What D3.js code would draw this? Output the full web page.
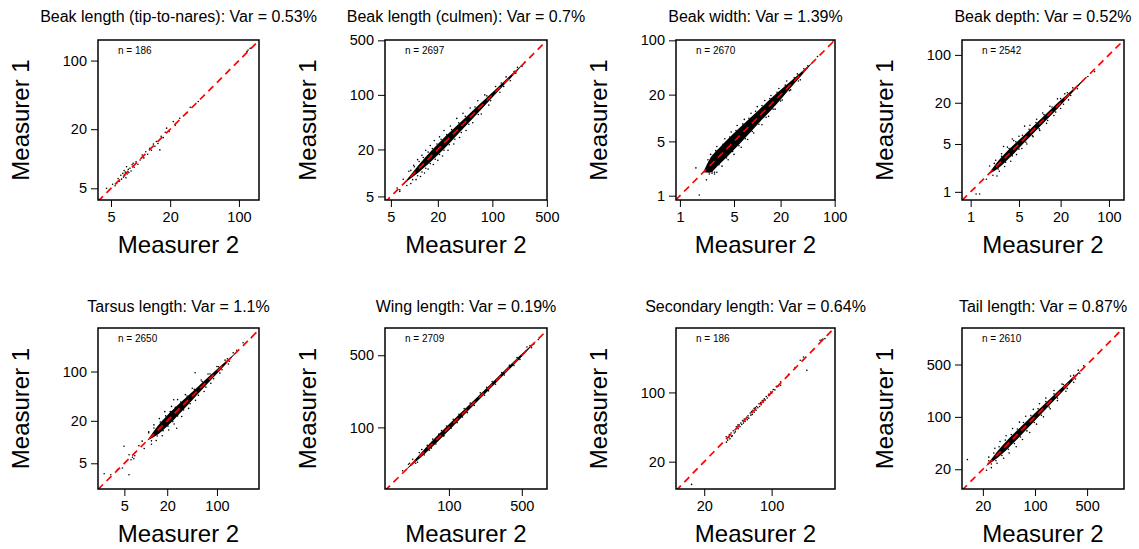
<!DOCTYPE html>
<html>
<head>
<meta charset="utf-8">
<script src="https://cdn.jsdelivr.net/npm/d3@7"></script>
<style>
body { margin: 0; background: #fff; }
svg { display: block; }
text { font-family: "Liberation Sans", Arial, sans-serif; fill: #000; }
</style>
</head>
<body>
<div id="viz"></div>
<script>
// titles, sample sizes and tick values for the 8 panels
const titles = [
    'Beak length (tip-to-nares): Var = 0.53%',
    'Beak length (culmen): Var = 0.7%',
    'Beak width: Var = 1.39%',
    'Beak depth: Var = 0.52%',
    'Tarsus length: Var = 1.1%',
    'Wing length: Var = 0.19%',
    'Secondary length: Var = 0.64%',
    'Tail length: Var = 0.87%'
];
const nCounts = [186, 2697, 2670, 2542, 2650, 2709, 186, 2610];
const tickSets = [
    [5, 20, 100],
    [5, 20, 100, 500],
    [1, 5, 20, 100],
    [1, 5, 20, 100],
    [5, 20, 100],
    [100, 500],
    [20, 100],
    [20, 100, 500]
];

// dense cores of the clouds: Measurer 2 value, lower and upper Measurer 1 value
const culmenCoreX  = [7.3, 11.2, 16.6, 24.5, 36.3, 59.3, 107, 175, 260];
const culmenCoreLo = [7.3, 10.05, 14.26, 20.76, 31.62, 52.85, 99.8, 167.5, 260];
const culmenCoreHi = [7.3, 12.48, 19.32, 28.91, 41.67, 66.53, 114.7, 182.9, 260];

const widthCoreX  = [2.0, 2.4, 3.24, 5.9, 10.7, 17.6, 26.3, 39, 53];
const widthCoreLo = [2.0, 1.98, 2.54, 4.63, 8.82, 14.98, 23.87, 37.14, 53];
const widthCoreHi = [2.0, 2.91, 4.13, 7.52, 12.98, 20.68, 28.98, 40.95, 53];

const depthCoreX  = [1.8, 2.48, 3.72, 6.03, 10.5, 18.3, 28.5, 50];
const depthCoreLo = [1.8, 2.2, 3.2, 5.31, 9.38, 16.6, 27.04, 50];
const depthCoreHi = [1.8, 2.79, 4.32, 6.84, 11.75, 20.17, 30.04, 50];

const tarsusCoreX  = [10.5, 14.4, 19.9, 30.5, 52.1, 89, 137, 200];
const tarsusCoreLo = [10.5, 12.54, 16.62, 25.85, 46.02, 81.95, 131.5, 200];
const tarsusCoreHi = [10.5, 16.53, 23.82, 35.99, 58.98, 96.65, 142.8, 200];

const wingCoreX  = [38, 59.6, 100, 168, 304, 474, 700];
const wingCoreLo = [38, 56.1, 93.3, 159.7, 290.9, 458, 700];
const wingCoreHi = [38, 63.3, 107.2, 176.7, 317.7, 490.6, 700];

const tailCoreX  = [22, 35.6, 53.8, 81.5, 123, 206, 311, 424];
const tailCoreLo = [22, 31.45, 46.86, 72.0, 110.9, 189.7, 294.2, 424];
const tailCoreHi = [22, 40.3, 61.76, 92.26, 136.4, 223.7, 328.7, 424];

// single points [Measurer 2, Measurer 1]
const tipNaresPts = [
    [4.5, 5.0], [5.2, 5.5], [5.5, 5.3], [5.7, 5.6], [5.9, 6.3], [6.1, 5.9], [6.3, 6.8], [6.4, 6.2],
    [6.6, 7.1], [6.7, 6.5], [6.8, 7.6], [6.9, 6.7], [7.0, 7.3], [7.1, 6.4], [7.2, 8.3], [7.3, 7.0],
    [7.5, 7.8], [7.6, 7.2], [7.8, 8.0], [8.0, 7.5], [8.2, 8.7], [8.4, 9.0], [8.6, 8.2], [9.0, 9.3],
    [9.4, 8.8], [9.9, 9.7], [10.4, 10.9], [10.8, 10.2], [11.3, 11.8], [11.8, 11.1], [12.4, 12.8],
    [12.9, 12.2], [13.5, 14.1], [14.0, 13.4], [14.5, 15.0], [15.0, 14.3], [15.7, 12.3], [16.2, 16.9],
    [17.0, 16.4], [17.8, 18.6], [18.4, 20.5], [19.5, 19.0], [21.5, 23.9], [22.5, 22.0], [25, 25.8],
    [29.4, 29.1], [32, 33.5], [38.6, 38.3], [121, 124], [124, 128], [130, 133]
];
const culmenPts = [
    [6.0, 6.4], [6.5, 6.1], [6.5, 5.8], [7.2, 8.3], [8.0, 6.9], [8.5, 10.5], [9.0, 7.3], [9.8, 12.5],
    [10.5, 8.2], [11, 14.8], [12, 9.0], [12.5, 16.8], [13.5, 10.0], [14, 19.5], [15, 11.2], [16, 22.5],
    [17.5, 12.8], [18, 26], [20, 14.5], [21, 29], [23, 16.5], [24, 35], [27, 19.5], [29, 40],
    [32, 23.5], [35, 50], [38, 28.5], [42, 58], [46, 35], [52, 68], [56, 44], [65, 84], [72, 57],
    [80, 100], [90, 74], [110, 128], [125, 108], [150, 170], [170, 152], [210, 225], [240, 232], [259, 262],
    [9, 10.8], [9.5, 8.2], [10, 12], [11, 9.2], [11.5, 14], [12.5, 10.3], [13, 15.8], [14, 11.5],
    [15, 18.5], [16, 13.2], [17, 20.5], [18.5, 15], [19.5, 23.5], [21, 17.2], [22, 27], [24, 19.5],
    [26, 31], [28, 23], [30, 36], [33, 27], [37, 44], [40, 33], [45, 53], [50, 42], [60, 70], [66, 56],
    [85, 97], [95, 84], [130, 142], [140, 128], [190, 200], [200, 190]
];
const widthPts = [
    [1.61, 2.28], [1.78, 1.02], [2.2, 1.6], [2.4, 1.9], [2.6, 1.95], [2.8, 1.9], [3.0, 2.0],
    [2.5, 3.4], [2.8, 2.0], [3.0, 4.3], [3.5, 2.4], [3.8, 5.4], [4.2, 2.9], [4.6, 6.6], [5.0, 3.4],
    [5.5, 8.0], [6.2, 4.2], [6.8, 9.6], [7.5, 5.3], [8.3, 11.5], [9.0, 6.4], [10, 14], [11.5, 8.2],
    [12.5, 16.8], [14, 10.5], [15, 19.5], [17, 13], [19, 24], [21, 17], [24, 30], [27, 23], [33, 37],
    [36, 31], [45, 47], [60, 62], [95, 98],
    [2.3, 2.9], [2.6, 2.05], [2.9, 3.8], [3.2, 2.5], [3.6, 4.6], [4.0, 3.05], [4.4, 5.7], [4.8, 3.7],
    [5.3, 6.9], [5.8, 4.4], [6.5, 8.4], [7.0, 5.4], [7.8, 9.9], [8.6, 6.7], [9.5, 12.2], [10.5, 8.3],
    [11.5, 14.5], [13, 10.2], [14.5, 17.8], [16, 13], [18, 21.5], [20, 16.5], [23, 26.5], [26, 22.5],
    [30, 33], [34, 30], [40, 43]
];
const depthPts = [
    [1.2, 0.93], [1.35, 0.93], [1.69, 1.53], [1.88, 2.39], [2.1, 1.75], [2.3, 2.9], [2.4, 1.7],
    [2.6, 2.0], [2.8, 3.6], [3.0, 4.6], [3.1, 2.35], [3.4, 4.5], [3.8, 2.8], [4.0, 5.9], [4.2, 5.6],
    [4.6, 3.5], [5.0, 6.5], [5.5, 4.3], [6.03, 9.1], [6.5, 5.0], [7.2, 9.4], [8.0, 6.4], [9.0, 11.5],
    [10, 7.9], [11, 14.2], [12.5, 10.0], [14, 17.8], [16, 13.0], [18, 22.8], [20, 16.5], [23, 27],
    [26, 22], [30, 33], [35, 32], [49.6, 48.4], [62, 57],
    [2.2, 2.6], [2.5, 2.15], [2.8, 3.3], [3.2, 2.7], [3.6, 4.3], [4.0, 3.35], [4.5, 5.4], [5.0, 4.2],
    [5.6, 6.7], [6.3, 5.3], [7, 8.2], [7.8, 6.6], [8.8, 10.3], [9.8, 8.3], [11.5, 13.4], [13, 11],
    [15, 17.3], [17, 14.6], [20, 23], [22, 19], [25, 28], [28, 25.5]
];
const tarsusPts = [
    [2.6, 3.55], [3.22, 3.44], [4.0, 4.06], [4.69, 4.29], [4.95, 8.7], [5.8, 3.44], [5.82, 6.6],
    [6.2, 5.6], [6.5, 6.1], [6.8, 5.8], [7.0, 6.4], [8.0, 8.9], [8.9, 10.3], [9.5, 8.1],
    [11, 14], [12, 9.3], [13, 17.5], [14, 10.5], [15.5, 21.5], [17, 12.3], [18.5, 27], [21, 14.8],
    [23, 32], [24.7, 39.8], [25, 18], [27.2, 15.7], [28, 40], [32, 23], [36, 47], [40, 30], [45, 58],
    [49.3, 96], [50, 39], [60, 76], [66, 52], [75, 92], [82, 68], [100, 118], [110, 95], [130, 145],
    [145, 128], [169, 184], [190, 200], [233, 256], [305, 301],
    [11, 13.5], [12, 10.4], [13, 15.8], [14.5, 12.2], [16, 19.2], [17.5, 14.5], [19, 23.5], [20.5, 16.8],
    [22, 27], [24, 19.5], [26, 31], [28, 23.5], [31, 37], [34, 28.5], [38, 45], [42, 35], [48, 56],
    [55, 46], [62, 72], [70, 60], [80, 92], [90, 79], [105, 117], [118, 106], [140, 152], [150, 140]
];
const wingPts = [
    [36, 38], [41, 44], [45, 49], [50, 46], [55, 61], [65, 60], [70, 77], [75, 69], [85, 93],
    [90, 83], [110, 120], [120, 111], [140, 152], [150, 139], [200, 216], [220, 205], [260, 278],
    [280, 262], [380, 400], [420, 398], [560, 600], [620, 590], [650, 640], [720, 710],
    [42, 45], [48, 45], [52, 57], [58, 54], [62, 67], [68, 63], [80, 86], [88, 82], [95, 103],
    [105, 98], [125, 134], [135, 126], [160, 172], [175, 163], [230, 245], [240, 226], [320, 340],
    [340, 322], [450, 475], [480, 455], [600, 620]
];
const secondaryPts = [
    [14.8, 11.8], [33.8, 35.7], [34, 31.5], [35, 33], [36, 35], [36.5, 37.5], [37, 34], [38, 39],
    [38.5, 36], [39, 36.5], [40, 41], [41, 39], [42, 40], [43, 45], [44.6, 46.9], [45, 43], [46, 47],
    [47, 45], [48, 49], [49, 47.5], [50, 52], [51, 49], [52, 54], [53, 51], [55, 56], [56, 53],
    [57, 58], [58, 55], [60, 62], [61, 59], [62, 64], [63, 60], [64, 66], [65.9, 69], [66, 63],
    [68, 70], [69, 66], [70, 72], [72, 70], [74, 77], [75, 72], [77, 79], [78, 75], [80, 83],
    [82, 80], [84, 86], [86, 84], [88, 91], [90, 88], [93, 96], [95, 93], [97.7, 101], [100, 98],
    [104, 107], [108, 106], [112, 115], [118, 116], [124, 118], [124, 128], [150, 152], [175, 178],
    [198, 211], [214, 228], [232, 167], [318, 336], [330, 338], [340, 345], [357, 349]
];
const tailPts = [
    [12.4, 26.9], [22.4, 19.4], [24, 29], [26, 21], [29, 38], [31, 24], [34, 47], [38, 28], [41, 56],
    [45, 33], [50, 70], [56, 40], [62, 85], [68, 50], [75, 102], [85, 62], [95, 126], [105, 80],
    [115, 150], [130, 100], [140, 178], [160, 128], [180, 225], [200, 165], [230, 275], [260, 220],
    [300, 350], [330, 290], [380, 420], [400, 380], [450, 480], [1279, 1279],
    [24, 26], [26, 23.5], [28, 33], [30, 26], [33, 40], [36, 30.5], [40, 49], [44, 37], [48, 58],
    [53, 44], [58, 69], [64, 54], [70, 84], [78, 65], [88, 104], [98, 84], [110, 128], [122, 105],
    [140, 160], [155, 135], [180, 203], [200, 178], [240, 270], [270, 240], [330, 360], [350, 320]
];

const cores = [
    null,
    d3.zip(culmenCoreX, culmenCoreLo, culmenCoreHi),
    d3.zip(widthCoreX, widthCoreLo, widthCoreHi),
    d3.zip(depthCoreX, depthCoreLo, depthCoreHi),
    d3.zip(tarsusCoreX, tarsusCoreLo, tarsusCoreHi),
    d3.zip(wingCoreX, wingCoreLo, wingCoreHi),
    null,
    d3.zip(tailCoreX, tailCoreLo, tailCoreHi)
];
const points = [tipNaresPts, culmenPts, widthPts, depthPts, tarsusPts, wingPts, secondaryPts, tailPts];

// axis extents of each panel
const xDomains = [[3.69, 160], [4.2, 502], [0.89, 101], [0.75, 165], [2.13, 390], [24.4, 872], [10.2, 454], [10.5, 1563]];
const yDomains = [[3.8, 162], [4.5, 505], [0.88, 101], [0.76, 165], [2.16, 414], [25.3, 918], [10.6, 447], [10.9, 1535]];

const width = 1139, height = 549;
const colLeft = [98, 385, 676, 962], colRight = [259, 547, 835, 1124];
const rowTop = [40, 328], rowBottom = [200, 489], rowTitle = [22, 311.5];

const svg = d3.select('#viz')
    .append('svg')
    .attr('width', width)
    .attr('height', height);

titles.forEach((title, i) => {
    const col = i % 4, row = Math.floor(i / 4);
    const l = colLeft[col], r = colRight[col], t = rowTop[row], b = rowBottom[row];

    const x = d3.scaleLog().domain(xDomains[i]).range([l, r]);
    const y = d3.scaleLog().domain(yDomains[i]).range([b, t]);

    const g = svg.append('g');

    g.append('clipPath')
        .attr('id', 'clip' + i)
      .append('rect')
        .attr('x', l).attr('y', t)
        .attr('width', r - l).attr('height', b - t);

    const plot = g.append('g').attr('clip-path', 'url(#clip' + i + ')');

    if (cores[i]) {
        plot.append('path')
            .datum(cores[i])
            .attr('fill', '#000')
            .attr('d', d3.area()
                .x(d => x(d[0]))
                .y0(d => y(d[1]))
                .y1(d => y(d[2]))
                .curve(d3.curveMonotoneX));
    }

    plot.selectAll('circle')
        .data(points[i])
        .enter()
        .append('circle')
        .attr('cx', d => x(d[0]))
        .attr('cy', d => y(d[1]))
        .attr('r', 0.8)
        .attr('fill', '#000');

    // 1:1 line
    const lo = Math.min(xDomains[i][0], yDomains[i][0]), hi = Math.max(xDomains[i][1], yDomains[i][1]);
    plot.append('line')
        .attr('x1', x(lo)).attr('y1', y(lo))
        .attr('x2', x(hi)).attr('y2', y(hi))
        .attr('stroke', '#ff0000')
        .attr('stroke-width', 1.7)
        .attr('stroke-dasharray', '7,5');

    g.append('rect')
        .attr('x', l).attr('y', t)
        .attr('width', r - l).attr('height', b - t)
        .attr('fill', 'none')
        .attr('stroke', '#000')
        .attr('stroke-width', 1.5);

    const xAxis = g.append('g')
        .attr('transform', `translate(0,${b})`)
        .call(d3.axisBottom(x).tickValues(tickSets[i]).tickFormat(d3.format('d')).tickSize(7).tickPadding(5));
    const yAxis = g.append('g')
        .attr('transform', `translate(${l},0)`)
        .call(d3.axisLeft(y).tickValues(tickSets[i]).tickFormat(d3.format('d')).tickSize(7).tickPadding(4));
    [xAxis, yAxis].forEach(a => {
        a.select('.domain').remove();
        a.selectAll('line').attr('stroke', '#000');
        a.selectAll('text').attr('font-size', 14.5).attr('font-family', '"Liberation Sans", Arial, sans-serif');
    });

    g.append('text')
        .attr('x', (l + r) / 2)
        .attr('y', rowTitle[row])
        .attr('text-anchor', 'middle')
        .attr('font-size', 16)
        .text(title);

    g.append('text')
        .attr('x', l + 20)
        .attr('y', t + 14)
        .attr('font-size', 10)
        .text('n = ' + nCounts[i]);

    g.append('text')
        .attr('x', (l + r) / 2)
        .attr('y', b + 53)
        .attr('text-anchor', 'middle')
        .attr('font-size', 24)
        .text('Measurer 2');

    g.append('text')
        .attr('transform', `translate(${l - 69},${(t + b) / 2}) rotate(-90)`)
        .attr('text-anchor', 'middle')
        .attr('font-size', 24)
        .text('Measurer 1');
});
</script>
</body>
</html>
